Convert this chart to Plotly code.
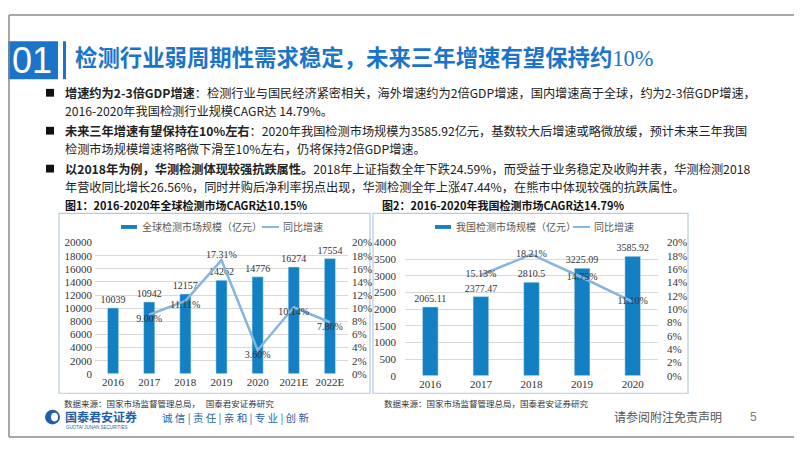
import plotly.graph_objects as go

# ---- data ----
years_global = ['2016', '2017', '2018', '2019', '2020', '2021E', '2022E']
global_size = [10039, 10942, 12157, 14262, 14776, 16274, 17554]
global_growth = [None, 9.00, 11.11, 17.31, 3.60, 10.14, 7.86]

years_china = ['2016', '2017', '2018', '2019', '2020']
china_size = [2065.11, 2377.47, 2810.5, 3225.09, 3585.92]
china_growth = [None, 15.13, 18.21, 14.75, 11.10]

# page body keeps its default 8px margin, so the figure is 16px smaller
OFF = 8
W, H = 802 - 2 * OFF, 452 - 2 * OFF
BAR = '#1380c4'
LINE = '#86b5e0'
BLUE = '#1b74c9'
CJK = 'Noto Sans CJK SC'
SERIF = 'Liberation Serif'


def px(x):
    return (x - OFF) / W


def py(y):
    return 1 - (y - OFF) / H


fig = go.Figure()

lblf = dict(family=SERIF, size=10, color='#333333')

fig.add_trace(go.Bar(x=years_global, y=global_size, xaxis='x', yaxis='y',
                     marker_color=BAR, textposition='outside', constraintext='none',
                     text=[str(v) for v in global_size], texttemplate='%{text}',
                     cliponaxis=False, textfont=lblf, hoverinfo='skip', showlegend=False))
fig.add_trace(go.Scatter(x=years_global, y=global_growth, xaxis='x', yaxis='y2',
                         mode='lines+text', line=dict(color=LINE, width=2.5),
                         text=[None if g is None else '%.2f%%' % g for g in global_growth],
                         textposition=['bottom center', 'bottom center', 'bottom center',
                                       'top center', 'bottom center', 'bottom center',
                                       'bottom center'],
                         textfont=lblf, cliponaxis=False, hoverinfo='skip', showlegend=False))

fig.add_trace(go.Bar(x=years_china, y=china_size, xaxis='x2', yaxis='y3',
                     marker_color=BAR, textposition='outside', constraintext='none',
                     text=[str(v) for v in china_size], texttemplate='%{text}',
                     cliponaxis=False, textfont=lblf, hoverinfo='skip', showlegend=False))
fig.add_trace(go.Scatter(x=years_china, y=china_growth, xaxis='x2', yaxis='y4',
                         mode='lines+text', line=dict(color=LINE, width=2.5),
                         text=[None if g is None else '%.2f%%' % g for g in china_growth],
                         textposition='middle center', textfont=lblf,
                         cliponaxis=False, hoverinfo='skip', showlegend=False))

tickf = dict(family=SERIF, size=11, color='#333333')
grid = '#d9d9d9'

fig.update_layout(
    width=W, height=H, margin=dict(l=0, r=0, t=0, b=0),
    paper_bgcolor='white', plot_bgcolor='rgba(0,0,0,0)',
    bargap=0.69, showlegend=False,
    xaxis=dict(domain=[px(95), px(348)], anchor='y', tickfont=tickf,
               showgrid=False, showline=False, ticks=''),
    yaxis=dict(domain=[py(378), py(243)], anchor='x', range=[0, 20000], dtick=2000,
               tickformat='d', tickfont=tickf, gridcolor=grid, zeroline=False,
               ticklabelstandoff=2),
    yaxis2=dict(overlaying='y', side='right', anchor='x', range=[0, 20], dtick=2,
                ticksuffix='%', tickfont=tickf, showgrid=False, zeroline=False,
                ticklabelstandoff=3),
    xaxis2=dict(domain=[px(405), px(658)], anchor='y3', tickfont=tickf,
                showgrid=False, showline=False, ticks=''),
    yaxis3=dict(domain=[py(380), py(243)], anchor='x2', range=[0, 4000], dtick=500,
                tickformat='d', tickfont=tickf, gridcolor=grid, zeroline=False,
                ticklabelstandoff=8),
    yaxis4=dict(overlaying='y3', side='right', anchor='x2', range=[0, 20], dtick=2,
                ticksuffix='%', tickfont=tickf, showgrid=False, zeroline=False,
                ticklabelstandoff=8),
)

shapes = []
ann = []


def rect(x0, y0, x1, y1, fill=None, line=None, lw=1):
    shapes.append(dict(type='rect', xref='paper', yref='paper',
                       x0=px(x0), x1=px(x1), y0=py(y1), y1=py(y0),
                       fillcolor=fill if fill else 'rgba(0,0,0,0)',
                       line=dict(color=line if line else 'rgba(0,0,0,0)', width=lw if line else 0),
                       layer='below'))


def hline(x0, x1, y, color, w=1):
    shapes.append(dict(type='line', xref='paper', yref='paper', x0=px(x0), x1=px(x1),
                       y0=py(y), y1=py(y), line=dict(color=color, width=w)))


def vline(x, y0, y1, color, w=1):
    shapes.append(dict(type='line', xref='paper', yref='paper', x0=px(x), x1=px(x),
                       y0=py(y0), y1=py(y1), line=dict(color=color, width=w)))


def text(x, y, s, size=13, color='#222222', family=CJK, xanchor='left'):
    ann.append(dict(xref='paper', yref='paper', x=px(x), y=py(y), text=s,
                    showarrow=False, xanchor=xanchor, yanchor='middle',
                    font=dict(family=family, size=size, color=color)))


# page frame (pulled to the figure edge)
hline(9, 802, 9, '#8c8c8c', 1.5)
vline(9, 9, 443, '#8c8c8c', 1.5)
hline(9, 802, 443, '#8c8c8c', 1.5)

# header
rect(8, 36, 58, 75, fill=BLUE)
rect(63, 36, 66, 75, fill=BLUE)
text(32, 56, '01', size=36, color='white', family='Liberation Sans', xanchor='center')
text(73, 51, '<b>检测行业弱周期性需求稳定，未来三年增速有望保持约</b>'
     '<span style="font-family:Liberation Serif">10%</span>', size=22.4, color=BLUE)

# bullets
for yb in (89, 128, 167):
    rect(46, yb - 4, 54, yb + 4, fill='#111111')
body = [
    (89, '<b>增速约为2-3倍GDP增速</b>：检测行业与国民经济紧密相关，海外增速约为2倍GDP增速，国内增速高于全球，约为2-3倍GDP增速，'),
    (108, '2016-2020年我国检测行业规模CAGR达 14.79%。'),
    (128, '<b>未来三年增速有望保持在10%左右</b>：2020年我国检测市场规模为3585.92亿元，基数较大后增速或略微放缓，预计未来三年我国'),
    (147, '检测市场规模增速将略微下滑至10%左右，仍将保持2倍GDP增速。'),
    (167, '<b>以2018年为例，华测检测体现较强抗跌属性。</b>2018年上证指数全年下跌24.59%，而受益于业务稳定及收购并表，华测检测2018'),
    (186, '年营收同比增长26.56%，同时并购后净利率拐点出现，华测检测全年上涨47.44%，在熊市中体现较强的抗跌属性。'),
]
for yb, s in body:
    text(63, yb, s, size=12.2)

# chart frames and titles
rect(59, 213, 370, 398, line='#b4cbe4', lw=1.2)
rect(373, 213, 688, 398, line='#b4cbe4', lw=1.2)
text(63, 204, '<b>图1：2016-2020年全球检测市场CAGR达10.15%</b>', size=11, color='#111111')
text(380, 204, '<b>图2：2016-2020年我国检测市场CAGR达14.79%</b>', size=11, color='#111111')

# manual legends
for bx, tx1, lx, tx2, lab in ((121, 140, 262, 281, '全球检测市场规模（亿元）'),
                               (435, 454, 573, 592, '我国检测市场规模（亿元）')):
    rect(bx, 225, bx + 16, 229, fill=BAR)
    text(tx1, 227, lab, size=10, color='#595959')
    hline(lx, lx + 17, 227, LINE, 2)
    text(tx2, 227, '同比增速', size=10, color='#595959')

# sources
text(62, 408, '数据来源：国家市场监督管理总局，   国泰君安证券研究', size=8.5, color='#333333')
text(382, 408, '数据来源：国家市场监督管理总局，国泰君安证券研究', size=8.5, color='#333333')

# footer
shapes.append(dict(type='circle', xref='paper', yref='paper', x0=px(45), x1=px(60),
                   y0=py(430), y1=py(415), fillcolor='#1d5fa8', line=dict(width=0)))
shapes.append(dict(type='circle', xref='paper', yref='paper', x0=px(51), x1=px(58),
                   y0=py(427), y1=py(418), fillcolor='white', line=dict(width=0)))
text(63, 422, '<b>国泰君安证券</b>', size=12, color='#1d5fa8')
text(64, 433, 'GUOTAI JUNAN SECURITIES', size=4.5, color='#1d5fa8', family='Liberation Sans')
text(160, 423, '诚 信 | 责 任 | 亲 和 | 专 业 | 创 新', size=10.5, color='#2a64a8')
text(612, 422, '请参阅附注免责声明', size=12, color='#555555')
text(748, 422, '5', size=12, color='#777777', family='Liberation Sans')

fig.update_layout(shapes=shapes, annotations=ann)
fig.write_html('out.html', config={'displayModeBar': False})
